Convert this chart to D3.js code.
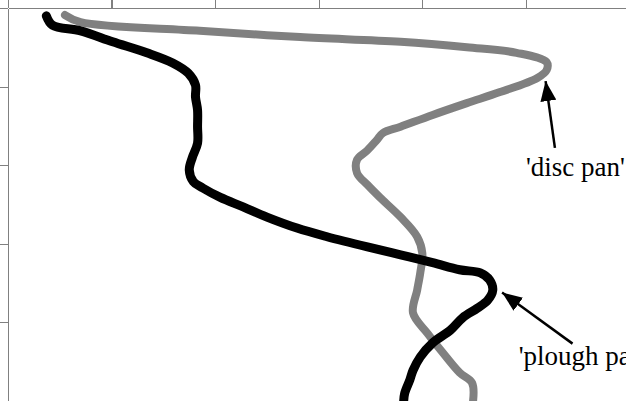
<!DOCTYPE html>
<html>
<head>
<meta charset="utf-8">
<script src="https://cdn.jsdelivr.net/npm/d3@7"></script>
<style>
  html, body { margin: 0; padding: 0; background: #fff; overflow: hidden; }
  svg { display: block; }
</style>
</head>
<body>
<svg id="chart" width="626" height="401"></svg>
<script>
// tick positions (axis units), labels are not visible in the crop
const xTicks = [0, 1, 2, 3, 4, 5, 6]
const yTicks = [0, 1, 2, 3, 4, 5]

// black profile: [x, depth]
const blackX = [0.37, 0.43, 0.70, 1.01, 1.34, 1.59, 1.74, 1.81, 1.81, 1.83, 1.83, 1.83, 1.78, 1.75, 1.79, 1.88, 2.05, 2.27, 2.50, 2.79, 3.08, 3.47, 3.79, 4.10, 4.36, 4.56, 4.65, 4.68, 4.63, 4.53, 4.39, 4.27, 4.10, 3.98, 3.91, 3.88, 3.83, 3.82]
const blackY = [0.10, 0.22, 0.29, 0.43, 0.57, 0.70, 0.83, 0.98, 1.13, 1.30, 1.51, 1.72, 1.90, 2.06, 2.21, 2.29, 2.41, 2.53, 2.66, 2.80, 2.91, 3.04, 3.14, 3.24, 3.33, 3.37, 3.46, 3.59, 3.72, 3.82, 3.94, 4.10, 4.26, 4.44, 4.61, 4.73, 4.90, 5.00]

// grey profile: [x, depth]
const greyX = [0.55, 0.70, 1.85, 2.82, 3.79, 4.43, 4.91, 5.20, 5.20, 5.11, 4.75, 4.43, 4.10, 3.79, 3.62, 3.56, 3.47, 3.37, 3.37, 3.47, 3.59, 3.79, 3.95, 4.00, 3.98, 3.95, 3.91, 4.05, 4.20, 4.36, 4.48, 4.49]
const greyY = [0.09, 0.18, 0.29, 0.37, 0.43, 0.50, 0.57, 0.69, 0.79, 0.89, 1.07, 1.21, 1.36, 1.51, 1.59, 1.68, 1.81, 1.93, 2.10, 2.25, 2.41, 2.66, 2.91, 3.12, 3.37, 3.59, 3.88, 4.14, 4.39, 4.64, 4.77, 5.00]

// annotations: label, arrow tip, arrow tail, label anchor (axis units)
const noteLabels = ["'disc pan'", "'plough pan'"]
const noteTip = [[5.19, 0.93], [4.77, 3.62]]
const noteTail = [[5.28, 1.78], [5.45, 4.27]]
const noteText = [[5.00, 2.14], [4.93, 4.54]]

const svg = d3.select('#chart')
const height = +svg.attr('height')
const margin = { top: 8, left: 8 }

const x = d3.scaleLinear().domain([0, 6]).range([margin.left, 629.5])
const y = d3.scaleLinear().domain([0, 5]).range([margin.top, height])

const axisColour = '#808080'

// top axis
svg.append('g')
  .attr('transform', 'translate(0,' + margin.top + ')')
  .call(d3.axisTop(x).tickValues(xTicks).tickSize(8).tickSizeOuter(0).tickFormat(''))
// left axis
svg.append('g')
  .attr('transform', 'translate(' + margin.left + ',0)')
  .call(d3.axisLeft(y).tickValues(yTicks).tickSize(8).tickSizeOuter(0).tickFormat(''))

svg.selectAll('.domain, .tick line')
  .attr('stroke', axisColour)
  .attr('stroke-width', 1.2)
  .attr('shape-rendering', 'crispEdges')

const line = d3.line()
  .x(d => x(d[0]))
  .y(d => y(d[1]))
  .curve(d3.curveCatmullRom.alpha(0.5))

const blackData = blackX.map((v, i) => [v, blackY[i]])
const greyData = greyX.map((v, i) => [v, greyY[i]])

svg.append('path')
  .datum(greyData)
  .attr('d', line)
  .attr('fill', 'none')
  .attr('stroke', '#808080')
  .attr('stroke-width', 8)
  .attr('stroke-linejoin', 'round')
  .attr('stroke-linecap', 'round')

svg.append('path')
  .datum(blackData)
  .attr('d', line)
  .attr('fill', 'none')
  .attr('stroke', '#000')
  .attr('stroke-width', 9)
  .attr('stroke-linejoin', 'round')
  .attr('stroke-linecap', 'round')

// arrow head marker
svg.append('defs').append('marker')
  .attr('id', 'head')
  .attr('markerUnits', 'userSpaceOnUse')
  .attr('viewBox', '0 0 20 16')
  .attr('refX', 20)
  .attr('refY', 8)
  .attr('markerWidth', 20)
  .attr('markerHeight', 16)
  .attr('orient', 'auto')
  .append('path')
  .attr('d', 'M0,0L20,8L0,16Z')
  .attr('fill', '#000')

noteLabels.forEach(function (label, i) {
  svg.append('line')
    .attr('x1', x(noteTail[i][0]))
    .attr('y1', y(noteTail[i][1]))
    .attr('x2', x(noteTip[i][0]))
    .attr('y2', y(noteTip[i][1]))
    .attr('stroke', '#000')
    .attr('stroke-width', 2.5)
    .attr('marker-end', 'url(#head)')

  svg.append('text')
    .attr('x', x(noteText[i][0]))
    .attr('y', y(noteText[i][1]))
    .attr('font-family', '"Liberation Serif", "Times New Roman", serif')
    .attr('font-size', 27)
    .attr('fill', '#000')
    .text(label)
})
</script>
</body>
</html>
